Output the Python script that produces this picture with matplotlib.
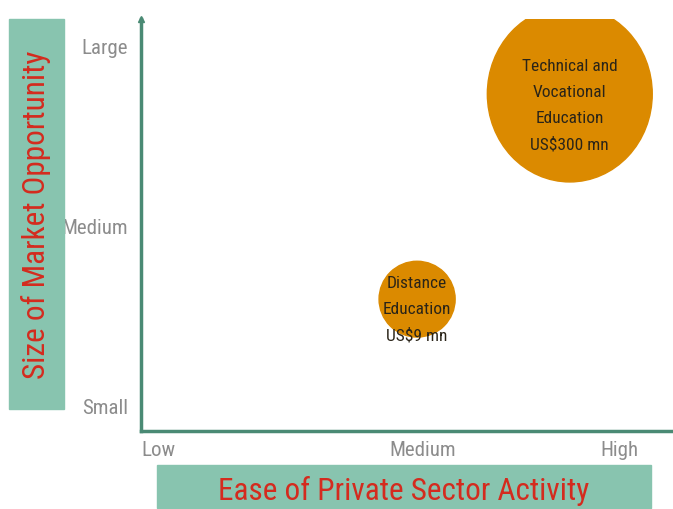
import matplotlib
matplotlib.use("Agg")
import matplotlib.pyplot as plt
from matplotlib import font_manager as fm
from matplotlib.patches import Ellipse, Rectangle

# pick a narrow face if one exists
have = {f.name for f in fm.fontManager.ttflist}
narrow = [n for n in ['Liberation Sans Narrow', 'Roboto Condensed', 'Open Sans Condensed',
                      'Noto Sans Condensed', 'DejaVu Sans Condensed'] if n in have]
face = narrow[0] if narrow else 'Liberation Sans'
plt.rcParams['font.family'] = [face, 'DejaVu Sans']
plt.rcParams['font.stretch'] = 'condensed'

# data
x_levels = ['Low', 'Medium', 'High']
x_pos = [0.0, 0.53, 0.90]
y_levels = ['Small', 'Medium', 'Large']
y_pos = [0.058, 0.495, 0.932]

names = ['Distance\nEducation', 'Technical and\nVocational\nEducation']
values = ['US$9 mn', 'US$300 mn']
bx = [0.519, 0.806]
by = [0.320, 0.818]
bw = [0.143, 0.310]
bh = [0.184, 0.427]

teal = '#4a8a74'
box = '#88c4af'
red = '#d42b1e'
orange = '#db8a00'
grey = '#8c8c8c'

fig = plt.figure(figsize=(6.73, 5.10), dpi=100)
ax = fig.add_axes([141/673, 78/510, 532/673, 412/510])
ax.set_xlim(0, 1)
ax.set_ylim(0, 1)

for s in ['top', 'right']:
    ax.spines[s].set_visible(False)
for s in ['left', 'bottom']:
    ax.spines[s].set_color(teal)
    ax.spines[s].set_linewidth(2.5)
ax.plot(0, 1.0, marker='^', color=teal, markersize=5, transform=ax.transAxes, clip_on=False)

ax.set_xticks([])
ax.set_yticks([])
for lab, xp in zip(x_levels, x_pos):
    ha = 'left' if lab == 'Low' else 'center'
    ax.text(xp, -0.022, lab, ha=ha, va='top', fontsize=15, color=grey)
for lab, yp in zip(y_levels, y_pos):
    ax.text(-0.025, yp, lab, ha='right', va='center', fontsize=15, color=grey)

# bubbles
for i in range(len(names)):
    ax.add_patch(Ellipse((bx[i], by[i]), bw[i], bh[i], color=orange, zorder=2))
ax.text(bx[0], 0.296, names[0] + '\n' + values[0], ha='center', va='center',
        fontsize=12.5, color='#2a2418', linespacing=1.9, zorder=3)
ax.text(bx[1], 0.792, names[1] + '\n' + values[1], ha='center', va='center',
        fontsize=12.5, color='#2a2418', linespacing=1.9, zorder=3)

# label boxes
fig.patches.append(Rectangle((9/673, 100/510), 55/673, 390/510, transform=fig.transFigure,
                             color=box, zorder=0))
fig.text(36.5/673, 295/510, 'Size of Market Opportunity', rotation=90, ha='center', va='center',
         fontsize=22.5, color=red)
fig.patches.append(Rectangle((157/673, 1/510), 494/673, 43/510, transform=fig.transFigure,
                             color=box, zorder=0))
fig.text(404/673, 19/510, 'Ease of Private Sector Activity', ha='center', va='center',
         fontsize=22.5, color=red)

fig.savefig('out.png', dpi=100)
